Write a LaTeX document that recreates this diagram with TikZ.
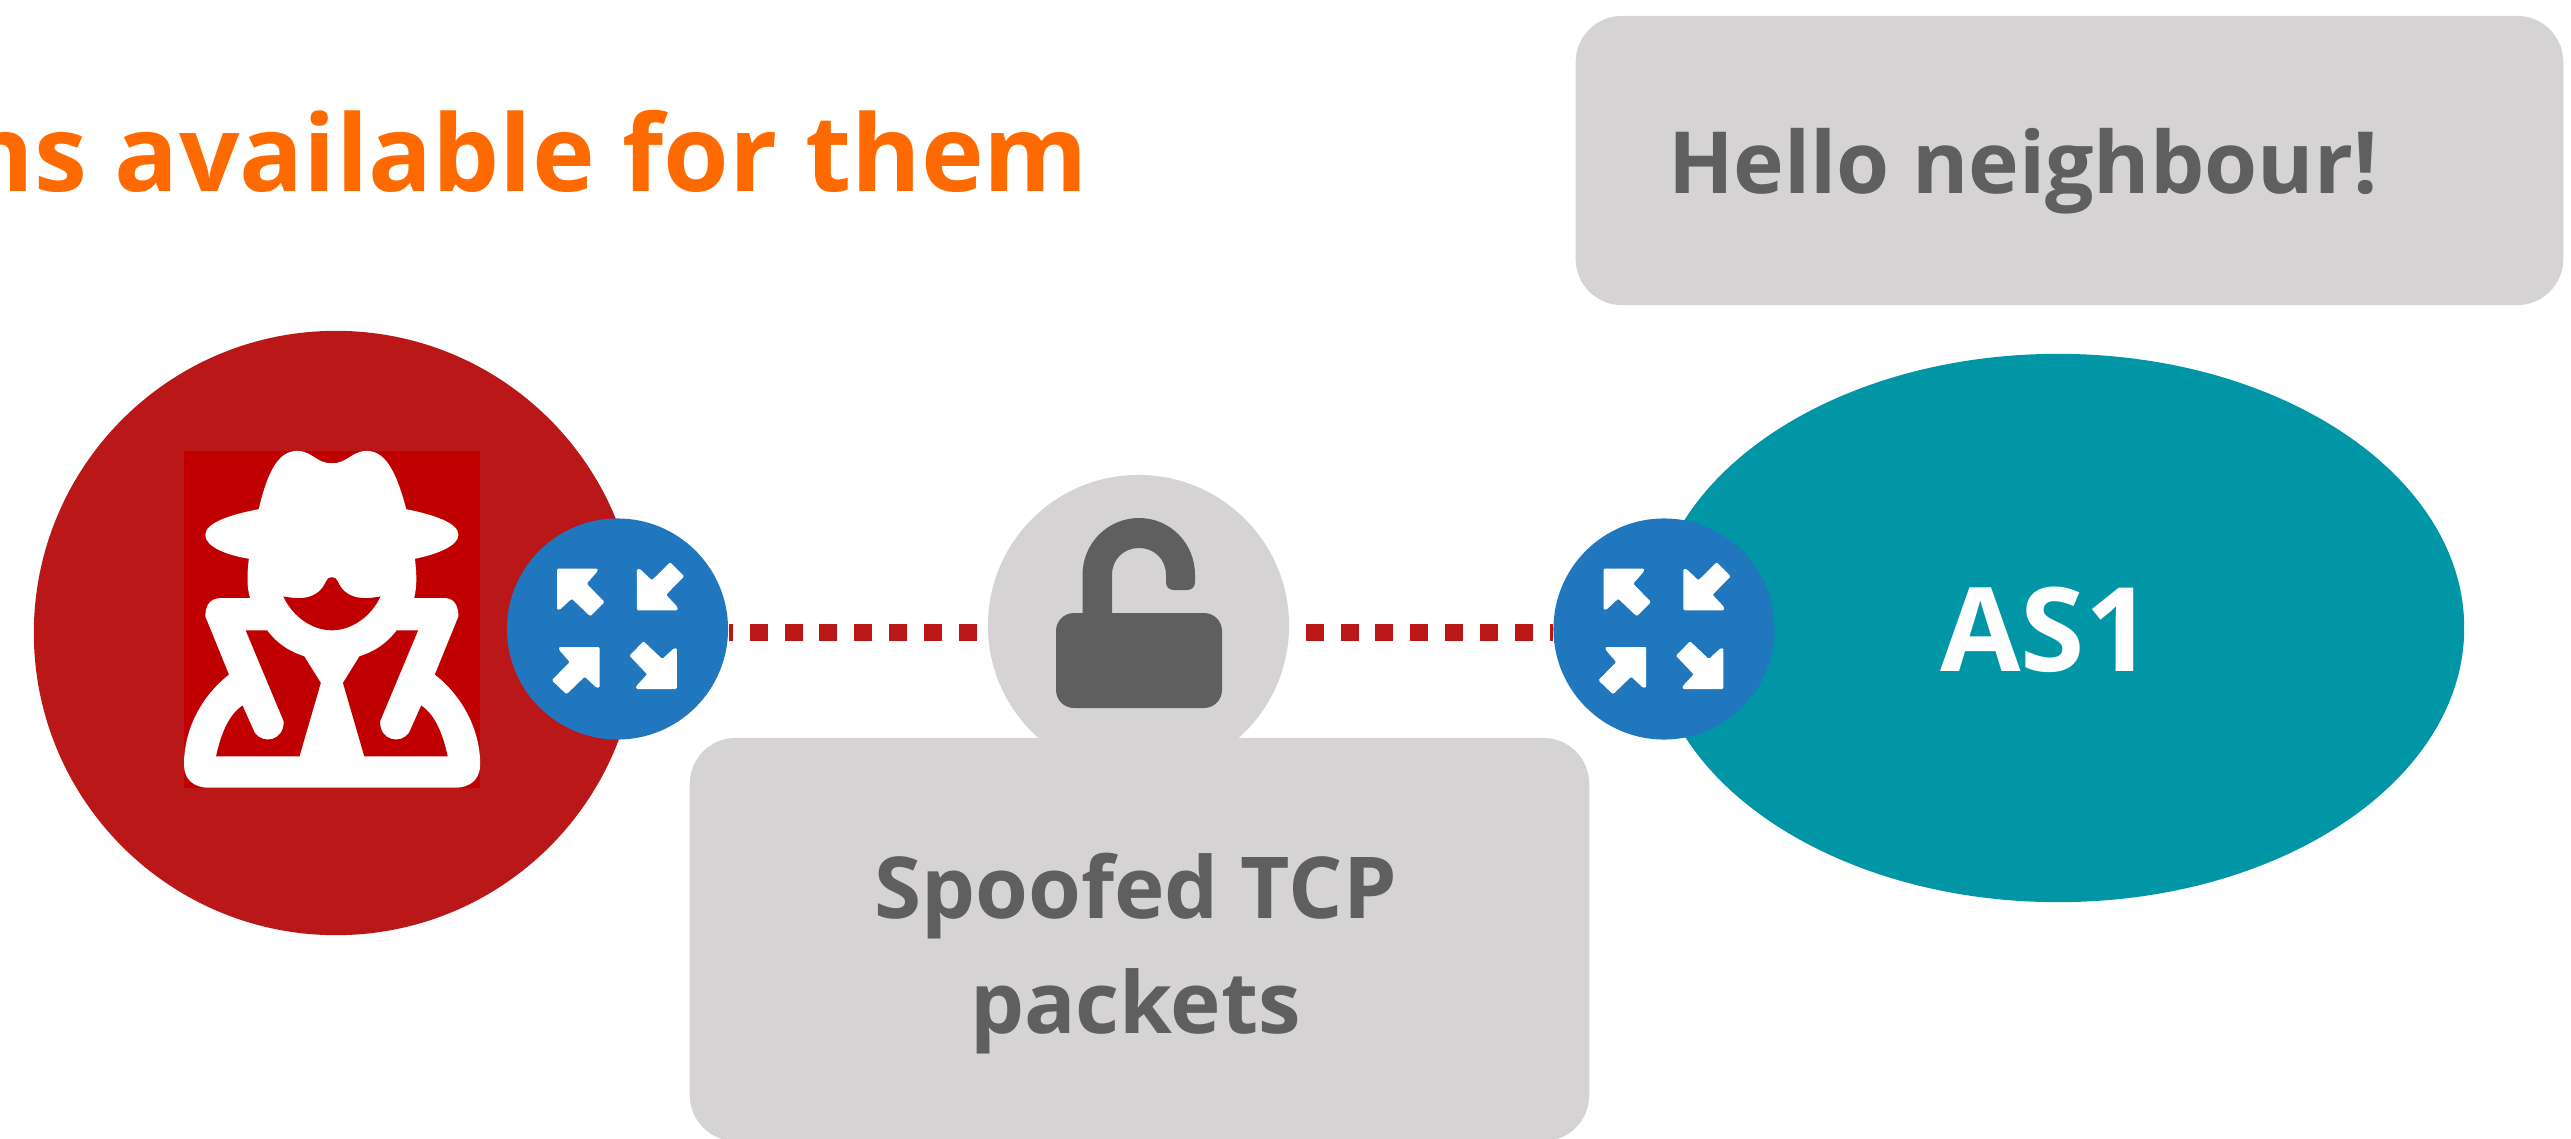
\documentclass[tikz,border=0pt]{standalone}
\usepackage{fontspec}
\setmainfont{Open Sans}[BoldFont={Open Sans Bold}]
\usetikzlibrary{backgrounds,calc,shapes.geometric}
\definecolor{hackred}{HTML}{BA1818}
\definecolor{spyred}{HTML}{C00000}
\definecolor{routerblue}{HTML}{2177BD}
\definecolor{asteal}{HTML}{0096A5}
\definecolor{boxgrey}{HTML}{D5D3D4}
\definecolor{inkgrey}{HTML}{5F5F5F}
\definecolor{titleorange}{HTML}{FF6A00}
\tikzset{
  hackdisc/.style={circle,fill=hackred,inner sep=0pt,minimum size=6.04cm},
  routerdisc/.style={circle,fill=routerblue,inner sep=0pt,minimum size=2.21cm},
  lockdisc/.style={circle,fill=boxgrey,inner sep=0pt,minimum size=3.01cm},
  asdisc/.style={ellipse,fill=asteal,inner sep=0pt,minimum width=8.12cm,minimum height=5.48cm},
  greybox/.style={rectangle,rounded corners=0.46cm,fill=boxgrey,inner sep=0pt},
  boxtext/.style={text=inkgrey,align=center,inner sep=0pt},
  dotted link/.style={draw=hackred,line width=0.175cm,dash pattern=on 0.18cm off 0.168cm},
  routerarrows/.pic={
    \fill[white,rounded corners=0.012cm]
      (-60.5,-60.3)--(-19.8,-60.3)--(-19.8,-58)--(-30.8,-45.3)--(-13,-27)--(-27.3,-12.7)--(-45.8,-30.3)--(-57.7,-19.3)--(-60.5,-19.3)--cycle
      (19.4,-18.7)--(19.4,-60)--(22.5,-60)--(34.4,-48.7)--(52.6,-66.7)--(66.8,-52.7)--(48.6,-34.3)--(60,-22)--(60,-18.7)--cycle
      (-17.8,18)--(-58.5,18)--(-58.5,20.7)--(-47.8,33)--(-65.6,51.3)--(-51,65.3)--(-32.8,47.7)--(-21,58.7)--(-17.8,58.7)--cycle
      (59.3,60)--(18.6,60)--(18.6,57.3)--(29.6,45.3)--(11.9,26.7)--(26.1,12.3)--(44.7,30)--(56.5,19.3)--(59.3,19.3)--cycle;
  }
}
\begin{document}
\begin{tikzpicture}[x=0.01cm,y=-0.01cm]
\useasboundingbox (0,0) rectangle (2571,1139);
\clip (0,0) rectangle (2571,1139);
% title
\node[anchor=base east,inner sep=0pt,text=titleorange,font=\bfseries\fontsize{30.2pt}{36pt}\selectfont] (title) at (1089,191) {ns available for them};
% top box
\node[greybox,minimum width=9.87cm,minimum height=2.89cm] (hellobox) at (2069.5,160.5) {};
\node[boxtext,anchor=base,font=\bfseries\fontsize{24.4pt}{32.7pt}\selectfont] (hellotext) at (2023,193.5) {Hello neighbour!};
% attacker
\node[hackdisc] (attacker) at (336,633) {};
\fill[spyred] (184,451) rectangle (480,788);
\begin{scope}[shift={(150,420)},x=0.0039526cm,y=-0.0033333cm]
\fill[white] (275,268) .. controls (300,140) and (330,93) .. (372,93) .. controls (410,93) and (420,130) .. (460,130) .. controls (500,130) and (510,93) .. (548,93) .. controls (590,93) and (620,140) .. (648,268) .. controls (720,285) and (780,310) .. (780,345) .. controls (780,380) and (720,405) .. (670,417) .. controls (675,470) and (675,500) .. (668,535) -- (745,535) .. controls (770,535) and (780,560) .. (780,590) -- (720,765) .. controls (790,830) and (835,930) .. (835,1035) .. controls (835,1080) and (810,1105) .. (770,1105) -- (150,1105) .. controls (110,1105) and (86,1080) .. (86,1035) .. controls (86,930) and (130,830) .. (200,765) -- (140,590) .. controls (140,560) and (150,535) .. (180,535) -- (253,535) .. controls (245,500) and (245,470) .. (250,417) .. controls (190,405) and (140,380) .. (140,345) .. controls (140,310) and (200,285) .. (275,268) -- cycle;
\fill[spyred] (337,530) .. controls (380,540) and (425,540) .. (445,485) .. controls (450,468) and (470,468) .. (475,485) .. controls (495,540) and (540,540) .. (583,530) .. controls (560,590) and (510,632) .. (460,632) .. controls (410,632) and (360,590) .. (337,530) -- cycle;
\fill[spyred] (242,632) -- (296,632) .. controls (320,670) and (350,695) .. (390,710) -- (432,790) -- (378,1011) -- (167,1011) .. controls (180,940) and (200,885) .. (234,858) -- (265,940) .. controls (285,975) and (340,965) .. (338,905) -- cycle;
\fill[spyred] (678,632) -- (624,632) .. controls (600,670) and (570,695) .. (530,710) -- (488,790) -- (542,1011) -- (753,1011) .. controls (740,940) and (720,885) .. (686,858) -- (655,940) .. controls (635,975) and (580,965) .. (582,905) -- cycle;
\end{scope}
% AS1
\node[asdisc] (as) at (2058,628) {};
\node[anchor=base,inner sep=0pt,text=white,font=\bfseries\fontsize{33.2pt}{40pt}\selectfont] (astext) at (2046,671) {AS1};
% lock
\node[lockdisc] (lockdisc) at (1138.5,625.5) {};
\fill[inkgrey,rounded corners=0.18cm] (1056,613) rectangle (1222,708);
\fill[inkgrey] (1082.5,620) -- (1082.5,575) .. controls (1082.5,543) and (1108,518) .. (1139,518) .. controls (1170,518) and (1195,543) .. (1195,575) -- (1195,582) .. controls (1195,587) and (1192,590) .. (1187,590) -- (1174,590) .. controls (1169,590) and (1166,587) .. (1166,582) -- (1166,575) .. controls (1166,559) and (1154,548) .. (1139,548) .. controls (1124,548) and (1112,559) .. (1112,575) -- (1112,620) -- cycle;
% routers
\node[routerdisc] (routerL) at (617.5,629) {};
\pic at (routerL.center) {routerarrows};
\node[routerdisc] (routerR) at (1664,629) {};
\pic at (routerR.center) {routerarrows};
% lower box
\node[greybox,minimum width=8.99cm,minimum height=4.03cm] (spoofbox) at (1139.5,939.5) {};
\node[boxtext,font=\bfseries\fontsize{24.3pt}{32.7pt}\selectfont] (spooftext) at (1135.5,954) {Spoofed TCP\\packets};
% links
\begin{scope}[on background layer]
\draw[dotted link,dash phase=0.138cm] ($(routerL.east)+(0,3.5)$) -- ($(lockdisc.west |- routerL.east)+(0,3.5)$);
\draw[dotted link,dash phase=0.188cm] ($(lockdisc.east |- routerR.west)+(0,3.5)$) -- ($(routerR.west)+(0,3.5)$);
\end{scope}
\end{tikzpicture}
\end{document}
